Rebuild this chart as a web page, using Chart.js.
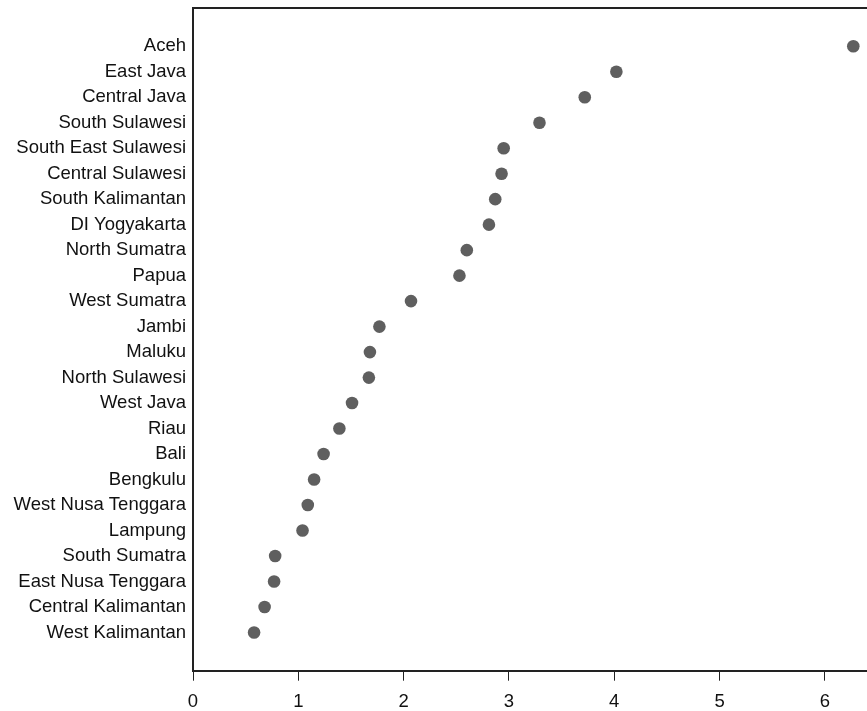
<!DOCTYPE html>
<html>
<head>
<meta charset="utf-8">
<script src="https://cdn.jsdelivr.net/npm/chart.js@4"></script>
<style>
    html, body { margin: 0; padding: 0; background: #fff; }
    #wrap { width: 867px; height: 711px; position: relative; }
</style>
</head>
<body>
<div id="wrap"><canvas id="dotChart"></canvas></div>
<script>
// Provinces, top to bottom
const provinces = [
    'Aceh', 'East Java', 'Central Java', 'South Sulawesi', 'South East Sulawesi',
    'Central Sulawesi', 'South Kalimantan', 'DI Yogyakarta', 'North Sumatra', 'Papua',
    'West Sumatra', 'Jambi', 'Maluku', 'North Sulawesi', 'West Java', 'Riau', 'Bali',
    'Bengkulu', 'West Nusa Tenggara', 'Lampung', 'South Sumatra', 'East Nusa Tenggara',
    'Central Kalimantan', 'West Kalimantan'
];
const values = [
    6.27, 4.02, 3.72, 3.29, 2.95,
    2.93, 2.87, 2.81, 2.60, 2.53,
    2.07, 1.77, 1.68, 1.67, 1.51, 1.39, 1.24,
    1.15, 1.09, 1.04, 0.78, 0.77,
    0.68, 0.58
];
const xTicks = [0, 1, 2, 3, 4, 5, 6];

const axisColor = '#222';
const labelFont = { family: "'Liberation Sans', Arial, sans-serif", size: 18.5 };

// top frame line (left and bottom come from the axes)
const topFrame = {
    id: 'topFrame',
    afterDraw(chart) {
        const { ctx, chartArea } = chart;
        ctx.save();
        ctx.strokeStyle = axisColor;
        ctx.lineWidth = 2;
        ctx.beginPath();
        ctx.moveTo(chartArea.left - 1, chartArea.top);
        ctx.lineTo(chart.width, chartArea.top);
        ctx.stroke();
        ctx.restore();
    }
};

new Chart(document.getElementById('dotChart'), {
    type: 'scatter',
    data: {
        datasets: [{
            data: values.map((v, i) => ({ x: v, y: i + 1 })),
            backgroundColor: '#5f5f5f',
            borderColor: '#5f5f5f',
            borderWidth: 0,
            pointRadius: 6.3,
            pointHoverRadius: 6.3
        }]
    },
    options: {
        responsive: true,
        maintainAspectRatio: false,
        animation: false,
        layout: { autoPadding: false, padding: { top: 8, right: 0, left: 0, bottom: 0 } },
        plugins: {
            legend: { display: false },
            tooltip: { enabled: false }
        },
        scales: {
            x: {
                type: 'linear',
                min: 0,
                max: 6.4,
                afterBuildTicks: scale => { scale.ticks = xTicks.map(v => ({ value: v })); },
                afterFit: scale => {
                    scale.height = 40.3;
                    scale.paddingLeft = 0;
                    scale.paddingRight = 0;
                },
                grid: {
                    drawOnChartArea: false,
                    drawTicks: true,
                    tickLength: 10,
                    tickColor: axisColor,
                    tickWidth: 1
                },
                border: { display: true, color: axisColor, width: 2 },
                ticks: {
                    color: '#111',
                    font: labelFont,
                    padding: 10,
                    maxRotation: 0,
                    autoSkip: false
                }
            },
            y: {
                type: 'linear',
                reverse: true,
                min: -0.5,
                max: 25.5,
                afterBuildTicks: scale => { scale.ticks = provinces.map((p, i) => ({ value: i + 1 })); },
                afterFit: scale => {
                    scale.width = 193;
                    scale.paddingTop = 0;
                    scale.paddingBottom = 0;
                },
                grid: { drawOnChartArea: false, drawTicks: false },
                border: { display: true, color: axisColor, width: 2 },
                ticks: {
                    color: '#111',
                    font: labelFont,
                    padding: 7,
                    autoSkip: false,
                    callback: value => provinces[value - 1] || ''
                }
            }
        }
    },
    plugins: [topFrame]
});
</script>
</body>
</html>
